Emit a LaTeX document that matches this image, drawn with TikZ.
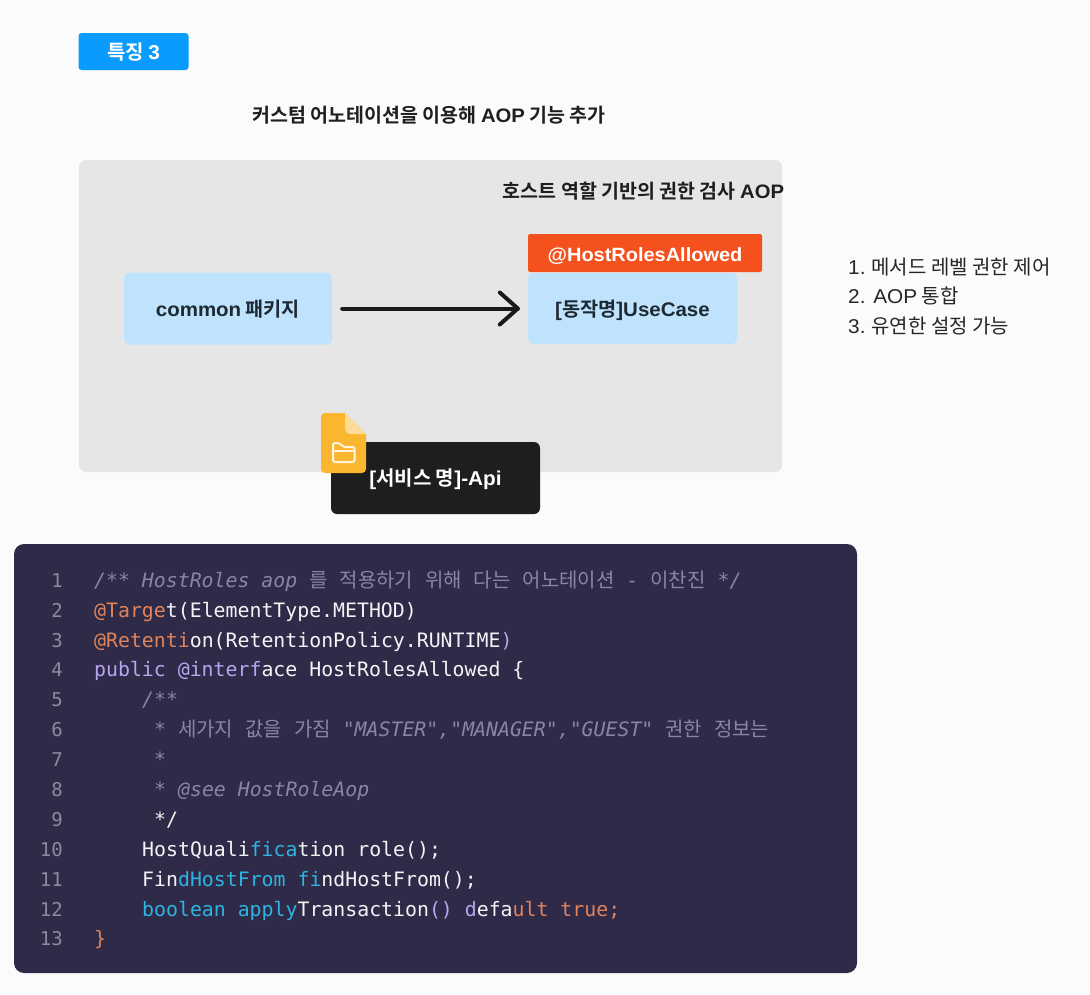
\documentclass[tikz,border=0pt]{standalone}
\usepackage{fontspec}
\usetikzlibrary{calc}
\setmainfont{Noto Sans CJK KR}[BoldFont={Noto Sans CJK KR Bold}]
\setmonofont{DejaVu Sans Mono}
\newfontfamily\latf{Liberation Sans}[FakeStretch=1.04]
\definecolor{pagebg}{HTML}{FBFBFC}
\definecolor{panel}{HTML}{E6E6E6}
\definecolor{tagblue}{HTML}{0A9BFF}
\definecolor{boxblue}{HTML}{BFE3FD}
\definecolor{ink}{HTML}{1E2A33}
\definecolor{dark}{HTML}{1E1E1E}
\definecolor{redtag}{HTML}{F4511E}
\definecolor{folder}{HTML}{FBB62F}
\definecolor{fold}{HTML}{FDDC9A}
\definecolor{codebg}{HTML}{2F2A47}
\definecolor{cw}{HTML}{F4F4F6}
\definecolor{cm}{HTML}{8A84A6}
\definecolor{co}{HTML}{E0835C}
\definecolor{cc}{HTML}{2DB4E2}
\definecolor{cp}{HTML}{B7A5F2}
\definecolor{ln}{HTML}{8D899E}
\newcommand{\K}[1]{{\normalfont\fontsize{20}{22}\selectfont #1}}
\newcommand{\I}[1]{{\itshape #1}}
\newcommand{\Lt}[1]{{\latf #1}}
\newcommand{\lowered}[2][7.5pt]{\raisebox{-#1}[0pt][0pt]{#2}}
\tikzset{
  x=1pt,y=-1pt,
  codetext/.style={anchor=base west,inner sep=0pt,font=\ttfamily\fontsize{19.85}{24}\selectfont,text=cw},
  lineno/.style={anchor=base east,inner sep=0pt,font=\ttfamily\fontsize{19}{24}\selectfont,text=ln},
  bluebox/.style={fill=boxblue,rounded corners=5pt,draw=none,text=ink,inner sep=0pt,font=\bfseries\fontsize{19.7}{24}\selectfont},
  heading/.style={anchor=base,inner sep=0pt,text=black!88,font=\bfseries\fontsize{19.5}{24}\selectfont},
  listitem/.style={anchor=base west,inner sep=0pt,text=black!85,font=\fontsize{20}{24}\selectfont},
  arrowline/.style={line width=4pt,line cap=round,line join=round,draw=black!90},
  iconline/.style={draw=white!85!folder,line width=2pt,line join=round},
}
\begin{document}
\begin{tikzpicture}
\useasboundingbox (0,0) rectangle (1090,994);
\fill[pagebg] (0,0) rectangle (1090,994);
% tag
\node[fill=tagblue,rounded corners=3pt,minimum width=110pt,minimum height=37pt,inner sep=0pt,text=white,font=\bfseries\fontsize{20}{24}\selectfont] (tag) at (133.5,51.5) {\lowered{특징 \Lt{3}}};
\node[heading] (title) at (429,122) {커스텀 어노테이션을 이용해 \Lt{AOP} 기능 추가};
% panel
\fill[panel,rounded corners=7pt] (79,160) rectangle (782,472);
\node[heading] (sub) at (643.5,198) {호스트 역할 기반의 권한 검사 \Lt{AOP}};
\node[bluebox,minimum width=208pt,minimum height=72pt] (common) at (228,308.5) {\lowered{\Lt{common} 패키지}};
\node[bluebox,minimum width=209pt,minimum height=71pt] (usecase) at (632.5,308.5) {\lowered{\Lt{[}동작명\Lt{]UseCase}}};
\node[fill=redtag,rounded corners=2pt,minimum width=234pt,minimum height=38pt,inner sep=0pt,text=white,font=\bfseries\fontsize{19.2}{24}\selectfont] (roles) at (645,253) {\lowered[8pt]{\Lt{@HostRolesAllowed}}};
\coordinate (tail) at ($(common.east)+(10,0)$);
\coordinate (tip) at ($(usecase.west)+(-10,0)$);
\draw[arrowline] (tail) -- (tip);
\draw[arrowline] ($(tip)+(-18,-16)$) -- (tip) -- ($(tip)+(-18,16)$);
% service box
\node[fill=dark,rounded corners=6pt,minimum width=209pt,minimum height=72pt,inner sep=0pt,text=white,font=\bfseries\fontsize{20}{24}\selectfont] (service) at (435.5,478) {\lowered{\Lt{[}서비스 명\Lt{]-Api}}};
% file icon
\fill[folder] (345,413) [rounded corners=4pt] -- (321,413) -- (321,473) -- (366,473) [sharp corners] -- (366,434) -- cycle;
\fill[fold] (345,413) -- (366,434) -- (350,434) .. controls (347,434) and (345,432) .. (345,429) -- cycle;
\draw[iconline,rounded corners=2pt] (333,443) -- (340,443) -- (343,447) -- (354.5,447) -- (354.5,462) -- (333,462) -- cycle;
\draw[iconline] (333,451) -- (354.5,451);
% list
\node[listitem] (li1) at (848,274) {\Lt{1.} 메서드 레벨 권한 제어};
\node[listitem] (li2) at (848,303) {\Lt{2. AOP} 통합};
\node[listitem] (li3) at (848,333) {\Lt{3.} 유연한 설정 가능};
% code
\fill[white,rounded corners=11pt] (13,543) rectangle (858,974);
\fill[codebg,rounded corners=10pt] (14,544) rectangle (857,973);
\foreach \n/\yy in {1/587,2/617,3/647,4/676.5,5/706,6/736,7/766,8/796,9/826,10/856,11/886,12/916,13/945.5}
  \node[lineno] (n\n) at (63,\yy) {\n};
\node[codetext,text=cm] (c1) at (94,587) {\I{/** HostRoles aop} \K{를} \K{적용하기} \K{위해} \K{다는} \K{어노테이션} \I{-} \K{이찬진} \I{*/}};
\node[codetext] (c2) at (94,617) {\textcolor{co}{@Targe}t(ElementType.METHOD)};
\node[codetext] (c3) at (94,647) {\textcolor{co}{@Retenti}on(RetentionPolicy.RUNTIME\textcolor{cp}{)}};
\node[codetext] (c4) at (94,676.5) {\textcolor{cp}{public @interf}ace HostRolesAllowed \{};
\node[codetext,text=cm] (c5) at (142,706) {\I{/**}};
\node[codetext,text=cm] (c6) at (154,736) {\I{*} \K{세가지} \K{값을} \K{가짐} \I{"MASTER","MANAGER","GUEST"} \K{권한} \K{정보는}};
\node[codetext,text=cm] (c7) at (154,766) {\I{*}};
\node[codetext,text=cm] (c8) at (154,796) {\I{* @see HostRoleAop}};
\node[codetext] (c9) at (154,826) {*/};
\node[codetext] (c10) at (142,856) {HostQuali\textcolor{cc}{fica}tion role();};
\node[codetext] (c11) at (142,886) {Fin\textcolor{cc}{dHostFrom fi}ndHostFrom();};
\node[codetext] (c12) at (142,916) {\textcolor{cc}{boolean apply}Transaction\textcolor{cp}{()} \textcolor{cp}{d}efa\textcolor{co}{ult true;}};
\node[codetext,text=co] (c13) at (94,945.5) {\}};
\end{tikzpicture}
\end{document}
